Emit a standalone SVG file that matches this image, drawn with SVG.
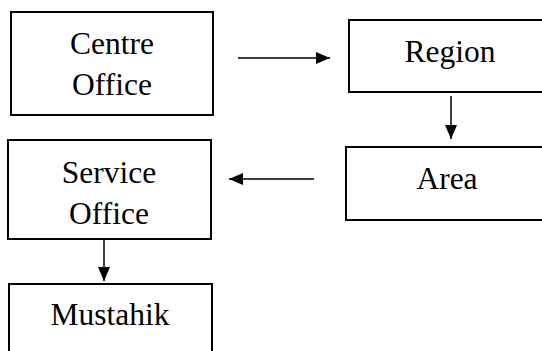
<svg xmlns="http://www.w3.org/2000/svg" width="542" height="351" viewBox="0 0 542 351">
<style>
.box{fill:#fff;stroke:#000;stroke-width:2}
.lbl{font-family:'Liberation Serif','Times New Roman',Times,serif;font-size:31.5px;fill:#000;text-anchor:middle}
.con{stroke:#000;stroke-width:1.5;fill:none}
</style>
<defs>
<marker id="ah" viewBox="0 0 14 12" refX="14" refY="6" markerWidth="14" markerHeight="12" markerUnits="userSpaceOnUse" orient="auto">
<path d="M0,0 L14,6 L0,12 Z" fill="#000"/>
</marker>
</defs>
<rect width="542" height="351" fill="#fff"/>
<g id="centre-office">
<rect class="box" x="11" y="12" width="202" height="103"/>
<text class="lbl" x="112" y="54">Centre</text>
<text class="lbl" x="112" y="95">Office</text>
</g>
<g id="region">
<rect class="box" x="349" y="20" width="210" height="72"/>
<text class="lbl" x="450" y="62">Region</text>
</g>
<g id="area">
<rect class="box" x="346" y="147" width="210" height="73"/>
<text class="lbl" x="447" y="189">Area</text>
</g>
<g id="service-office">
<rect class="box" x="8" y="140" width="203" height="99"/>
<text class="lbl" x="109" y="183">Service</text>
<text class="lbl" x="109" y="224">Office</text>
</g>
<g id="mustahik">
<rect class="box" x="9" y="284" width="203" height="80"/>
<text class="lbl" x="110" y="325">Mustahik</text>
</g>
<g id="connectors">
<line class="con" x1="238" y1="58" x2="330" y2="58" marker-end="url(#ah)"/>
<line class="con" x1="451" y1="96" x2="451" y2="139" marker-end="url(#ah)"/>
<line class="con" x1="314" y1="179" x2="229" y2="179" marker-end="url(#ah)"/>
<line class="con" x1="104" y1="239" x2="104" y2="281" marker-end="url(#ah)"/>
</g>
</svg>
